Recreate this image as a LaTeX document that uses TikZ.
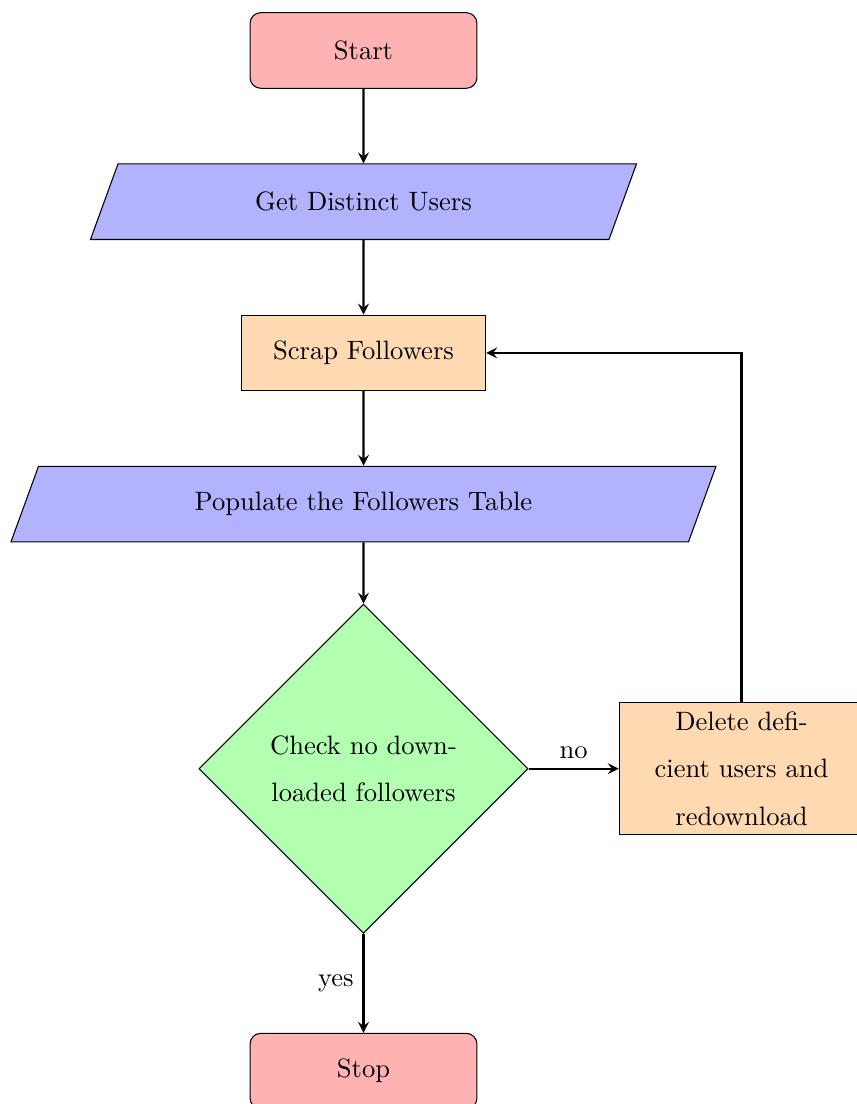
\documentclass[tikz,border=0pt]{standalone}
\usetikzlibrary{shapes.geometric,arrows}
\linespread{1.5}
\tikzset{
  startstop/.style={rectangle, rounded corners, minimum width=3cm, minimum height=1cm, text centered, draw=black, fill=red!30},
  io/.style={trapezium, trapezium left angle=70, trapezium right angle=110, minimum width=3cm, minimum height=1cm, text centered, draw=black, fill=blue!30},
  process/.style={rectangle, minimum width=3cm, minimum height=1cm, text centered, text width=3cm, draw=black, fill=orange!30},
  decision/.style={diamond, minimum width=3cm, minimum height=1cm, text centered, text width=3cm, draw=black, fill=green!30},
  arrow/.style={thick, ->, >=stealth}
}
\begin{document}
\begin{tikzpicture}
\useasboundingbox (-4.808,0.668) rectangle (6.515,-13.935);
\node (start) [startstop] at (0,0) {Start};
\node (in1) [io, inner xsep=4.5pt] at (0,-2) {Get Distinct Users};
\node (pro1) [process] at (0,-4) {Scrap Followers};
\node (in2) [io] at (0,-6) {Populate the Followers Table};
\node (dec1) [decision] at (0,-9.5) {Check no downloaded followers};
\node (pro2) [process] at (5,-9.5) {Delete deficient users and redownload};
\node (stop) [startstop] at (0,-13.5) {Stop};
\draw [arrow] (start) -- (in1);
\draw [arrow] (in1) -- (pro1);
\draw [arrow] (pro1) -- (in2);
\draw [arrow] (in2) -- (dec1);
\draw [arrow] (dec1) -- node[anchor=south] {no} (pro2);
\draw [arrow] (dec1) -- node[anchor=east] {yes} (stop);
\draw [arrow] (pro2.north) |- (pro1.east);
\end{tikzpicture}
\end{document}
